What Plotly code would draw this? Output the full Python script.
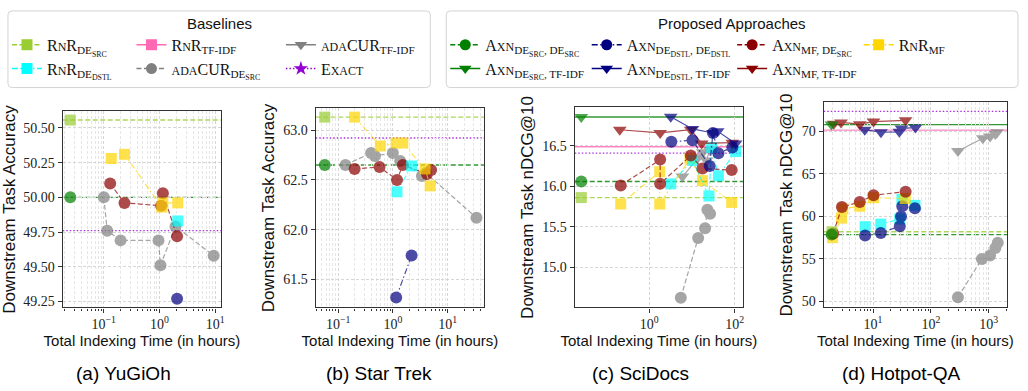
import math
import plotly.graph_objects as go

# ---------------- data (time in hours, score) ----------------
# (a) YuGiOh
YGO_RNR_DESRC_T = [0.025]; YGO_RNR_DESRC_Y = [50.557]
YGO_AXN_DESRC_DESRC_T = [0.025]; YGO_AXN_DESRC_DESRC_Y = [50.00]
YGO_EXACT_Y = 49.76
YGO_RNR_MF_T = [0.136, 0.235, 1.10, 1.15, 2.13]
YGO_RNR_MF_Y = [50.28, 50.31, 49.93, 49.96, 49.96]
YGO_AXN_MF_DESRC_T = [0.13, 0.235, 1.07, 1.15, 2.07]
YGO_AXN_MF_DESRC_Y = [50.10, 49.96, 49.94, 50.03, 49.72]
YGO_ADACUR_DESRC_T = [0.10, 0.115, 0.20, 0.96, 1.04, 1.94, 9.4]
YGO_ADACUR_DESRC_Y = [50.00, 49.76, 49.69, 49.69, 49.51, 49.79, 49.58]
YGO_RNR_DEDSTL_T = [2.13]; YGO_RNR_DEDSTL_Y = [49.83]
YGO_AXN_DEDSTL_DEDSTL_T = [2.07]; YGO_AXN_DEDSTL_DEDSTL_Y = [49.27]

# (b) Star Trek
ST_RNR_DESRC_T = [0.057]; ST_RNR_DESRC_Y = [63.13]
ST_AXN_DESRC_DESRC_T = [0.057]; ST_AXN_DESRC_DESRC_Y = [62.65]
ST_EXACT_Y = 62.92
ST_RNR_MF_T = [0.2, 0.59, 1.15, 1.52, 3.88, 4.8]
ST_RNR_MF_Y = [63.13, 62.84, 62.87, 62.87, 62.61, 62.44]
ST_ADACUR_DESRC_T = [0.136, 0.40, 0.47, 1.0, 1.36, 3.4, 4.0, 33.7]
ST_ADACUR_DESRC_Y = [62.65, 62.77, 62.74, 62.77, 62.69, 62.54, 62.57, 62.12]
ST_AXN_MF_DESRC_T = [0.2, 0.57, 1.19, 1.52, 4.2, 5.0]
ST_AXN_MF_DESRC_Y = [62.61, 62.63, 62.50, 62.65, 62.56, 62.60]
ST_RNR_DEDSTL_T = [1.19, 2.2]; ST_RNR_DEDSTL_Y = [62.38, 62.64]
ST_AXN_DEDSTL_DEDSTL_T = [1.15, 2.2]; ST_AXN_DEDSTL_DEDSTL_Y = [61.32, 61.74]

# (c) SciDocs
SD_AXN_DESRC_TFIDF_T = [0.026]; SD_AXN_DESRC_TFIDF_Y = [16.857]
SD_RNR_TFIDF_Y = 16.49
SD_EXACT_Y = 16.41
SD_AXN_DESRC_DESRC_T = [0.026]; SD_AXN_DESRC_DESRC_Y = [16.06]
SD_RNR_DESRC_T = [0.026]; SD_RNR_DESRC_Y = [15.86]
SD_AXN_MF_TFIDF_T = [0.206, 1.81, 9.4, 16.9, 88]
SD_AXN_MF_TFIDF_Y = [16.70, 16.66, 16.70, 16.53, 16.54]
SD_AXN_DEDSTL_TFIDF_T = [3.2, 10.3, 31, 40, 105]
SD_AXN_DEDSTL_TFIDF_Y = [16.86, 16.71, 16.66, 16.68, 16.53]
SD_AXN_DEDSTL_DEDSTL_T = [3.3, 10.3, 26, 31, 41.6, 88]
SD_AXN_DEDSTL_DEDSTL_Y = [16.55, 16.57, 16.25, 16.66, 16.41, 16.48]
SD_AXN_MF_DESRC_T = [0.217, 1.81, 1.81, 9.4, 17.6, 85]
SD_AXN_MF_DESRC_Y = [16.01, 16.33, 16.03, 16.38, 16.22, 16.20]
SD_RNR_MF_T = [0.217, 1.77, 1.77, 9.0, 17.6, 85]
SD_RNR_MF_Y = [15.78, 16.18, 15.78, 16.34, 16.07, 15.80]
SD_RNR_DEDSTL_T = [3.2, 10.3, 25, 29, 41.6, 105]
SD_RNR_DEDSTL_Y = [16.03, 16.32, 15.88, 16.48, 16.13, 16.43]
SD_ADACUR_TFIDF_T = [6.0, 14, 18, 22, 26]
SD_ADACUR_TFIDF_Y = [16.12, 16.36, 16.42, 16.32, 16.45]
SD_ADACUR_DESRC_T = [5.5, 14, 20.3, 23, 26.6]
SD_ADACUR_DESRC_Y = [14.62, 15.36, 15.48, 15.71, 15.66]

# (d) Hotpot-QA
HP_EXACT_Y = 72.35
HP_RNR_TFIDF_Y = 70.15
HP_AXN_DESRC_TFIDF_T = [1.91]; HP_AXN_DESRC_TFIDF_Y = [70.8]
HP_RNR_DESRC_T = [1.95]; HP_RNR_DESRC_Y = [58.2]
HP_AXN_DESRC_DESRC_T = [1.93]; HP_AXN_DESRC_DESRC_Y = [57.86]
HP_AXN_MF_TFIDF_T = [2.1, 2.8, 5.9, 10.2, 36.5]
HP_AXN_MF_TFIDF_Y = [70.9, 71.05, 70.85, 71.15, 71.3]
HP_AXN_DEDSTL_TFIDF_T = [7.2, 13.7, 28.5, 31, 54]
HP_AXN_DEDSTL_TFIDF_Y = [70.2, 69.9, 69.95, 70.35, 70.45]
HP_ADACUR_TFIDF_T = [293, 789, 1052, 1300, 1390]
HP_ADACUR_TFIDF_Y = [67.7, 69.2, 69.4, 69.7, 69.9]
HP_ADACUR_DESRC_T = [293, 760, 1052, 1300, 1430]
HP_ADACUR_DESRC_Y = [50.5, 55.0, 55.4, 56.3, 56.9]
HP_AXN_MF_DESRC_T = [2.05, 2.9, 5.9, 10.2, 36.6]
HP_AXN_MF_DESRC_Y = [58.0, 61.1, 61.7, 62.5, 62.9]
HP_RNR_MF_T = [2.0, 2.85, 3.0, 5.9, 10.2, 36.0]
HP_RNR_MF_Y = [57.5, 59.8, 60.9, 61.2, 62.2, 62.1]
HP_RNR_DEDSTL_T = [7.3, 13.6, 29, 31.6, 53]
HP_RNR_DEDSTL_Y = [58.8, 59.1, 59.7, 62.0, 61.3]
HP_AXN_DEDSTL_DEDSTL_T = [7.3, 13.6, 29, 30.5, 32, 53]
HP_AXN_DEDSTL_DEDSTL_Y = [57.75, 58.06, 58.85, 60.0, 61.2, 60.96]

# axis tick labels / titles
CAPTIONS = ["(a) YuGiOh", "(b) Star Trek", "(c) SciDocs", "(d) Hotpot-QA"]
Y_TITLES = ["Downstream Task Accuracy", "Downstream Task Accuracy",
            "Downstream Task nDCG@10", "Downstream Task nDCG@10"]
X_TITLE = "Total Indexing Time (in hours)"
X_TICKS = [[0.1, 1, 10], [0.1, 1, 10], [1, 100], [10, 100, 1000]]
X_TICKTEXT = [["10<sup>−1</sup>", "10<sup>0</sup>", "10<sup>1</sup>"],
              ["10<sup>−1</sup>", "10<sup>0</sup>", "10<sup>1</sup>"],
              ["10<sup>0</sup>", "10<sup>2</sup>"],
              ["10<sup>1</sup>", "10<sup>2</sup>", "10<sup>3</sup>"]]
Y_TICKS = [[49.25, 49.50, 49.75, 50.00, 50.25, 50.50],
           [61.5, 62.0, 62.5, 63.0],
           [15.0, 15.5, 16.0, 16.5],
           [50, 55, 60, 65, 70]]
Y_FMT = [".2f", ".1f", ".1f", "d"]

# ---------------- styles ----------------
def sc(s, size=12):
    return f"<span style='font-size:{size}px'>{s}</span>"

RNR = "R" + sc("N") + "R"
AXN = "A" + sc("XN")
DASH = {"dash": "5px,2.5px", "dashdot": "6px,2.5px,1.5px,2.5px", "dot": "1.5px,2px", "solid": "solid"}

STYLE = {
    "rnr_desrc": dict(color="#9ACD32", dash="dash", symbol="square", name=RNR + "<sub>DE<sub>SRC</sub></sub>"),
    "rnr_dedstl": dict(color="#00FFFF", dash="dashdot", symbol="square", name=RNR + "<sub>DE<sub>DSTL</sub></sub>"),
    "rnr_tfidf": dict(color="#FF69B4", dash="solid", symbol="square", name=RNR + "<sub>TF-IDF</sub>"),
    "adacur_desrc": dict(color="#808080", dash="dash", symbol="circle", name=sc("ADA") + "CUR<sub>DE<sub>SRC</sub></sub>"),
    "adacur_tfidf": dict(color="#808080", dash="solid", symbol="triangle-down", name=sc("ADA") + "CUR<sub>TF-IDF</sub>"),
    "exact": dict(color="#9400D3", dash="dot", symbol="star", name="E" + sc("XACT")),
    "axn_desrc_desrc": dict(color="#008000", dash="dash", symbol="circle", name=AXN + "<sub>DE<sub>SRC</sub>, DE<sub>SRC</sub></sub>"),
    "axn_desrc_tfidf": dict(color="#008000", dash="solid", symbol="triangle-down", name=AXN + "<sub>DE<sub>SRC</sub>, TF-IDF</sub>"),
    "axn_dedstl_dedstl": dict(color="#000080", dash="dashdot", symbol="circle", name=AXN + "<sub>DE<sub>DSTL</sub>, DE<sub>DSTL</sub></sub>"),
    "axn_dedstl_tfidf": dict(color="#000080", dash="solid", symbol="triangle-down", name=AXN + "<sub>DE<sub>DSTL</sub>, TF-IDF</sub>"),
    "axn_mf_desrc": dict(color="#8B0000", dash="dash", symbol="circle", name=AXN + "<sub>MF, DE<sub>SRC</sub></sub>"),
    "axn_mf_tfidf": dict(color="#8B0000", dash="solid", symbol="triangle-down", name=AXN + "<sub>MF, TF-IDF</sub>"),
    "rnr_mf": dict(color="#FFD700", dash="dashdot", symbol="square", name=RNR + "<sub>MF</sub>"),
}

DATASETS = [
    dict(series=[("adacur_desrc", YGO_ADACUR_DESRC_T, YGO_ADACUR_DESRC_Y),
                 ("axn_mf_desrc", YGO_AXN_MF_DESRC_T, YGO_AXN_MF_DESRC_Y),
                 ("rnr_mf", YGO_RNR_MF_T, YGO_RNR_MF_Y),
                 ("rnr_dedstl", YGO_RNR_DEDSTL_T, YGO_RNR_DEDSTL_Y),
                 ("axn_dedstl_dedstl", YGO_AXN_DEDSTL_DEDSTL_T, YGO_AXN_DEDSTL_DEDSTL_Y),
                 ("rnr_desrc", YGO_RNR_DESRC_T, YGO_RNR_DESRC_Y),
                 ("axn_desrc_desrc", YGO_AXN_DESRC_DESRC_T, YGO_AXN_DESRC_DESRC_Y)],
         hlines=[("rnr_desrc", YGO_RNR_DESRC_Y[0]), ("axn_desrc_desrc", YGO_AXN_DESRC_DESRC_Y[0]),
                 ("exact", YGO_EXACT_Y)],
         xr=[0.0183, 12.8], yr=[49.207, 50.619], minor=True),
    dict(series=[("adacur_desrc", ST_ADACUR_DESRC_T, ST_ADACUR_DESRC_Y),
                 ("axn_mf_desrc", ST_AXN_MF_DESRC_T, ST_AXN_MF_DESRC_Y),
                 ("rnr_mf", ST_RNR_MF_T, ST_RNR_MF_Y),
                 ("rnr_dedstl", ST_RNR_DEDSTL_T, ST_RNR_DEDSTL_Y),
                 ("axn_dedstl_dedstl", ST_AXN_DEDSTL_DEDSTL_T, ST_AXN_DEDSTL_DEDSTL_Y),
                 ("rnr_desrc", ST_RNR_DESRC_T, ST_RNR_DESRC_Y),
                 ("axn_desrc_desrc", ST_AXN_DESRC_DESRC_T, ST_AXN_DESRC_DESRC_Y)],
         hlines=[("rnr_desrc", ST_RNR_DESRC_Y[0]), ("axn_desrc_desrc", ST_AXN_DESRC_DESRC_Y[0]),
                 ("exact", ST_EXACT_Y)],
         xr=[0.039, 46.5], yr=[61.22, 63.217], minor=True),
    dict(series=[("adacur_desrc", SD_ADACUR_DESRC_T, SD_ADACUR_DESRC_Y),
                 ("adacur_tfidf", SD_ADACUR_TFIDF_T, SD_ADACUR_TFIDF_Y),
                 ("rnr_mf", SD_RNR_MF_T, SD_RNR_MF_Y),
                 ("rnr_dedstl", SD_RNR_DEDSTL_T, SD_RNR_DEDSTL_Y),
                 ("axn_mf_desrc", SD_AXN_MF_DESRC_T, SD_AXN_MF_DESRC_Y),
                 ("axn_mf_tfidf", SD_AXN_MF_TFIDF_T, SD_AXN_MF_TFIDF_Y),
                 ("axn_dedstl_dedstl", SD_AXN_DEDSTL_DEDSTL_T, SD_AXN_DEDSTL_DEDSTL_Y),
                 ("axn_dedstl_tfidf", SD_AXN_DEDSTL_TFIDF_T, SD_AXN_DEDSTL_TFIDF_Y),
                 ("rnr_desrc", SD_RNR_DESRC_T, SD_RNR_DESRC_Y),
                 ("axn_desrc_desrc", SD_AXN_DESRC_DESRC_T, SD_AXN_DESRC_DESRC_Y),
                 ("axn_desrc_tfidf", SD_AXN_DESRC_TFIDF_T, SD_AXN_DESRC_TFIDF_Y)],
         hlines=[("axn_desrc_tfidf", SD_AXN_DESRC_TFIDF_Y[0]), ("rnr_tfidf", SD_RNR_TFIDF_Y),
                 ("exact", SD_EXACT_Y), ("axn_desrc_desrc", SD_AXN_DESRC_DESRC_Y[0]),
                 ("rnr_desrc", SD_RNR_DESRC_Y[0])],
         xr=[0.0183, 157], yr=[14.50, 16.976], minor=False),
    dict(series=[("adacur_desrc", HP_ADACUR_DESRC_T, HP_ADACUR_DESRC_Y),
                 ("adacur_tfidf", HP_ADACUR_TFIDF_T, HP_ADACUR_TFIDF_Y),
                 ("rnr_dedstl", HP_RNR_DEDSTL_T, HP_RNR_DEDSTL_Y),
                 ("axn_dedstl_dedstl", HP_AXN_DEDSTL_DEDSTL_T, HP_AXN_DEDSTL_DEDSTL_Y),
                 ("rnr_mf", HP_RNR_MF_T, HP_RNR_MF_Y),
                 ("axn_mf_desrc", HP_AXN_MF_DESRC_T, HP_AXN_MF_DESRC_Y),
                 ("axn_dedstl_tfidf", HP_AXN_DEDSTL_TFIDF_T, HP_AXN_DEDSTL_TFIDF_Y),
                 ("axn_mf_tfidf", HP_AXN_MF_TFIDF_T, HP_AXN_MF_TFIDF_Y),
                 ("rnr_desrc", HP_RNR_DESRC_T, HP_RNR_DESRC_Y),
                 ("axn_desrc_desrc", HP_AXN_DESRC_DESRC_T, HP_AXN_DESRC_DESRC_Y),
                 ("axn_desrc_tfidf", HP_AXN_DESRC_TFIDF_T, HP_AXN_DESRC_TFIDF_Y)],
         hlines=[("exact", HP_EXACT_Y), ("axn_desrc_tfidf", HP_AXN_DESRC_TFIDF_Y[0]),
                 ("rnr_tfidf", HP_RNR_TFIDF_Y), ("rnr_desrc", HP_RNR_DESRC_Y[0]),
                 ("axn_desrc_desrc", HP_AXN_DESRC_DESRC_Y[0])],
         xr=[1.41, 2070], yr=[49.3, 73.4], minor=True),
]

# layout geometry (pixels)
W, H = 1028, 391
PLOT_X = [(63, 222), (317, 486), (577, 746), (827, 1011)]
PLOT_TOP = [112, 109, 108, 103]
PLOT_BOTTOM = 309
CAPTION_X = [124, 380, 643, 905]

fig = go.Figure()
MSIZE = {"circle": 12, "square": 11, "triangle-down": 12, "star": 12}

for i, ds in enumerate(DATASETS):
    n = "" if i == 0 else str(i + 1)
    for key, v in ds["hlines"]:
        st = STYLE[key]
        fig.add_shape(type="line", xref=f"x{n} domain", yref="y" + n, x0=0, x1=1, y0=v, y1=v,
                      line=dict(color=st["color"], dash=DASH[st["dash"]], width=1.4), opacity=0.8,
                      layer="below")
    for key, t, y in ds["series"]:
        st = STYLE[key]
        fig.add_trace(go.Scatter(
            x=t, y=y, mode="lines+markers", xaxis="x" + n, yaxis="y" + n,
            line=dict(color=st["color"], dash=DASH[st["dash"]], width=1.2),
            marker=dict(symbol=st["symbol"], size=MSIZE[st["symbol"]], color=st["color"], line=dict(width=0)),
            opacity=0.7, showlegend=False, hoverinfo="x+y"))
    x0, x1 = PLOT_X[i]
    grid = dict(showgrid=True, gridcolor="#d6d6d6", griddash="3px,2px", gridwidth=0.7)
    xa = dict(type="log", range=[math.log10(ds["xr"][0]), math.log10(ds["xr"][1])],
              domain=[x0 / W, x1 / W], anchor="y" + n,
              tickvals=X_TICKS[i], ticktext=X_TICKTEXT[i], ticks="outside", ticklen=4,
              tickcolor="#333", showline=True, linecolor="#333", linewidth=1.3, mirror=True,
              tickfont=dict(family="Liberation Serif", size=14, color="#222"),
              title=dict(text=X_TITLE, standoff=3, font=dict(family="Liberation Sans", size=15, color="#111")),
              zeroline=False, **grid)
    if ds["minor"]:
        xa["minor"] = dict(dtick="D1", showgrid=True, gridcolor="#e6e6e6", griddash="3px,2px",
                           gridwidth=0.6, ticks="outside", ticklen=2, tickcolor="#333")
    ya = dict(range=ds["yr"], domain=[1 - PLOT_BOTTOM / H, 1 - PLOT_TOP[i] / H], anchor="x" + n,
              tickvals=Y_TICKS[i], tickformat=Y_FMT[i], ticks="outside", ticklen=4, tickcolor="#333",
              showline=True, linecolor="#333", linewidth=1.3, mirror=True,
              tickfont=dict(family="Liberation Serif", size=14, color="#222"),
              title=dict(text=Y_TITLES[i], standoff=4, font=dict(family="Liberation Sans", size=17, color="#111")),
              zeroline=False, **grid)
    fig.layout["xaxis" + n] = xa
    fig.layout["yaxis" + n] = ya
    fig.add_annotation(text=CAPTIONS[i], xref="paper", yref="paper", x=CAPTION_X[i] / W, y=1 - 375 / H,
                       showarrow=False, xanchor="center", yanchor="middle",
                       font=dict(family="Liberation Sans Narrow, Liberation Sans", size=19, color="#000"))

# ---------------- legends ----------------
LEGEND_COLS = [
    (15, ["rnr_desrc", "rnr_dedstl"]),
    (140, ["rnr_tfidf", "adacur_desrc"]),
    (290, ["adacur_tfidf", "exact"]),
    (455, ["axn_desrc_desrc", "axn_desrc_tfidf"]),
    (597, ["axn_dedstl_dedstl", "axn_dedstl_tfidf"]),
    (743, ["axn_mf_desrc", "axn_mf_tfidf"]),
    (870, ["rnr_mf"]),
]
for j, (lx, keys) in enumerate(LEGEND_COLS):
    lname = "legend" if j == 0 else f"legend{j + 1}"
    fig.layout[lname] = dict(x=(lx - 8) / W, y=1 - 28 / H, xanchor="left", yanchor="top",
                             orientation="v", bgcolor="rgba(0,0,0,0)", borderwidth=0,
                             font=dict(family="Liberation Serif", size=16, color="#111"),
                             tracegroupgap=0, itemwidth=30)
    for k in keys:
        st = STYLE[k]
        fig.add_trace(go.Scatter(x=[None], y=[None], mode="lines+markers", name=st["name"],
                                 line=dict(color=st["color"], dash=DASH[st["dash"]], width=1.5),
                                 marker=dict(symbol=st["symbol"], size=11, color=st["color"]),
                                 legend=lname, showlegend=True))

# legend boxes (rounded) and titles
def rounded_box(x0, y0, x1, y1, r=4):
    # pixel coords from top-left -> paper coords
    def P(x, y):
        return f"{x / W:.5f},{1 - y / H:.5f}"
    return (f"M {P(x0 + r, y0)} L {P(x1 - r, y0)} Q {P(x1, y0)} {P(x1, y0 + r)} "
            f"L {P(x1, y1 - r)} Q {P(x1, y1)} {P(x1 - r, y1)} L {P(x0 + r, y1)} "
            f"Q {P(x0, y1)} {P(x0, y1 - r)} L {P(x0, y0 + r)} Q {P(x0, y0)} {P(x0 + r, y0)} Z")

for (bx0, bx1, title) in [(8, 432, "Baselines"), (448, 1022, "Proposed Approaches")]:
    fig.add_shape(type="path", xref="paper", yref="paper", path=rounded_box(bx0, 11, bx1, 88),
                  line=dict(color="#d3d3d3", width=1), fillcolor="rgba(255,255,255,0)", layer="below")
    fig.add_annotation(text=title, xref="paper", yref="paper", x=(bx0 + bx1) / 2 / W, y=1 - 24 / H,
                       showarrow=False, xanchor="center", yanchor="middle",
                       font=dict(family="Liberation Sans", size=15, color="#111"))

fig.update_layout(width=W, height=H, margin=dict(l=0, r=0, t=0, b=0),
                  paper_bgcolor="white", plot_bgcolor="white", showlegend=True)
fig.write_html("out.html", config={"displayModeBar": False},
               post_script="document.body.style.margin='0';document.body.style.overflow='hidden';")
